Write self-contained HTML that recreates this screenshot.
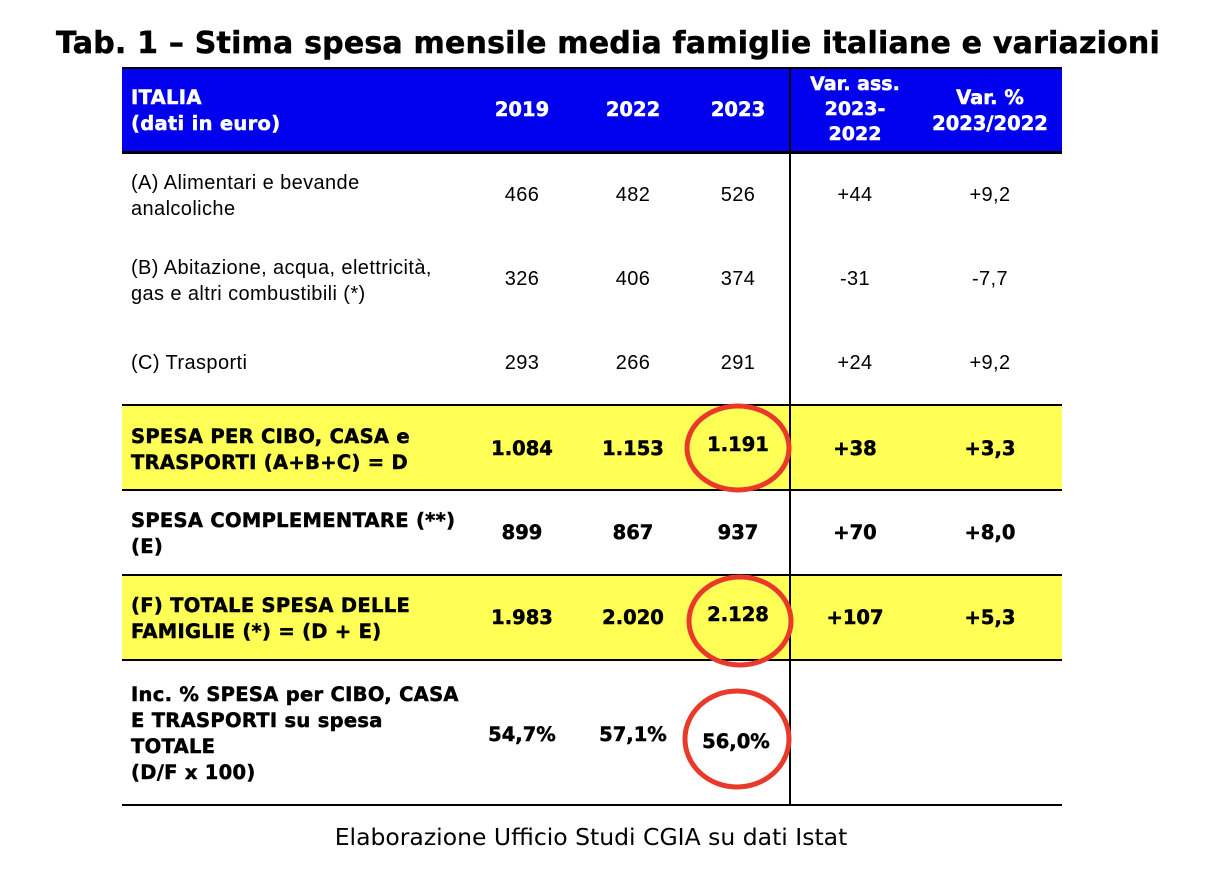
<!DOCTYPE html>
<html><head><meta charset="utf-8">
<style>
body{margin:0;width:1208px;height:882px;background:#fff;position:relative;overflow:hidden;font-family:"Liberation Sans",sans-serif;}
.a{position:absolute;}
.b{font-family:"DejaVu Sans","Liberation Sans",sans-serif;font-weight:bold;letter-spacing:0px;-webkit-text-stroke:0.5px currentColor;}
.t{font-size:20px;line-height:26px;color:#000;letter-spacing:0.4px;}
.bt{font-size:19.5px;line-height:26px;color:#000;}
.c{transform:translateX(-50%);text-align:center;white-space:nowrap;}
.hl{position:absolute;left:122px;width:940px;height:2px;background:#000;}
.w{color:#fff;}
.lbl{font-size:19.5px;letter-spacing:0.3px;white-space:nowrap;}
</style></head><body>
<div class="a b" style="left:56px;top:25px;font-size:30px;line-height:38px;white-space:nowrap;letter-spacing:0.2px;">Tab. 1 – Stima spesa mensile media famiglie italiane e variazioni</div>

<div class="a" style="left:122px;top:67px;width:940px;height:85px;background:#0000ee;border-top:2px solid #000;box-sizing:border-box;"></div>
<div class="a" style="left:122px;top:405px;width:940px;height:85px;background:#ffff55;"></div>
<div class="a" style="left:122px;top:575px;width:940px;height:85px;background:#ffff55;"></div>

<div class="hl" style="top:151px;height:3px"></div>
<div class="hl" style="top:404px"></div>
<div class="hl" style="top:489px"></div>
<div class="hl" style="top:574px"></div>
<div class="hl" style="top:659px"></div>
<div class="hl" style="top:804px"></div>
<div class="a" style="left:789px;top:67px;width:2px;height:739px;background:#000;"></div>

<!-- header -->
<div class="a b bt w lbl" style="left:131px;top:85px;">ITALIA<br>(dati in euro)</div>
<div class="a b bt w c" style="left:522px;top:97px;">2019</div>
<div class="a b bt w c" style="left:633px;top:97px;">2022</div>
<div class="a b bt w c" style="left:738px;top:97px;">2023</div>
<div class="a b w c" style="left:855px;top:72px;font-size:19px;line-height:25px;">Var. ass.<br>2023-<br>2022</div>
<div class="a b bt w c" style="left:990px;top:85px;">Var. %<br>2023/2022</div>

<!-- row A -->
<div class="a t" style="left:131px;top:170px;">(A) Alimentari e bevande<br>analcoliche</div>
<div class="a t c" style="left:522px;top:182px;">466</div>
<div class="a t c" style="left:633px;top:182px;">482</div>
<div class="a t c" style="left:738px;top:182px;">526</div>
<div class="a t c" style="left:855px;top:182px;">+44</div>
<div class="a t c" style="left:990px;top:182px;">+9,2</div>

<!-- row B -->
<div class="a t" style="left:131px;top:255px;white-space:nowrap;">(B) Abitazione, acqua, elettricità,<br>gas e altri combustibili (*)</div>
<div class="a t c" style="left:522px;top:266px;">326</div>
<div class="a t c" style="left:633px;top:266px;">406</div>
<div class="a t c" style="left:738px;top:266px;">374</div>
<div class="a t c" style="left:855px;top:266px;">-31</div>
<div class="a t c" style="left:990px;top:266px;">-7,7</div>

<!-- row C -->
<div class="a t" style="left:131px;top:350px;">(C) Trasporti</div>
<div class="a t c" style="left:522px;top:350px;">293</div>
<div class="a t c" style="left:633px;top:350px;">266</div>
<div class="a t c" style="left:738px;top:350px;">291</div>
<div class="a t c" style="left:855px;top:350px;">+24</div>
<div class="a t c" style="left:990px;top:350px;">+9,2</div>

<!-- row D -->
<div class="a b bt lbl" style="left:131px;top:424px;">SPESA PER CIBO, CASA e<br>TRASPORTI (A+B+C) = D</div>
<div class="a b bt c" style="left:522px;top:436px;">1.084</div>
<div class="a b bt c" style="left:633px;top:436px;">1.153</div>
<div class="a b bt c" style="left:738px;top:432px;">1.191</div>
<div class="a b bt c" style="left:855px;top:436px;">+38</div>
<div class="a b bt c" style="left:990px;top:436px;">+3,3</div>

<!-- row E -->
<div class="a b bt lbl" style="left:131px;top:508px;">SPESA COMPLEMENTARE (**)<br>(E)</div>
<div class="a b bt c" style="left:522px;top:520px;">899</div>
<div class="a b bt c" style="left:633px;top:520px;">867</div>
<div class="a b bt c" style="left:738px;top:520px;">937</div>
<div class="a b bt c" style="left:855px;top:520px;">+70</div>
<div class="a b bt c" style="left:990px;top:520px;">+8,0</div>

<!-- row F -->
<div class="a b bt lbl" style="left:131px;top:593px;">(F) TOTALE SPESA DELLE<br>FAMIGLIE (*) = (D + E)</div>
<div class="a b bt c" style="left:522px;top:605px;">1.983</div>
<div class="a b bt c" style="left:633px;top:605px;">2.020</div>
<div class="a b bt c" style="left:738px;top:602px;">2.128</div>
<div class="a b bt c" style="left:855px;top:605px;">+107</div>
<div class="a b bt c" style="left:990px;top:605px;">+5,3</div>

<!-- row Inc -->
<div class="a b bt lbl" style="left:131px;top:682px;">Inc. % SPESA per CIBO, CASA<br>E TRASPORTI su spesa<br>TOTALE<br>(D/F x 100)</div>
<div class="a b bt c" style="left:522px;top:722px;">54,7%</div>
<div class="a b bt c" style="left:633px;top:722px;">57,1%</div>
<div class="a b bt c" style="left:736px;top:729px;">56,0%</div>

<svg class="a" style="left:0;top:0" width="1208" height="882">
<ellipse cx="738" cy="448" rx="51" ry="42" fill="none" stroke="#e8392a" stroke-width="5"/>
<ellipse cx="740" cy="621" rx="51" ry="44" fill="none" stroke="#e8392a" stroke-width="5"/>
<ellipse cx="737" cy="739" rx="52" ry="48" fill="none" stroke="#e8392a" stroke-width="5"/>
</svg>

<div class="a c" style="left:591px;top:822px;font-family:'DejaVu Sans',sans-serif;font-size:23.5px;line-height:30px;">Elaborazione Ufficio Studi CGIA su dati Istat</div>
</body></html>
